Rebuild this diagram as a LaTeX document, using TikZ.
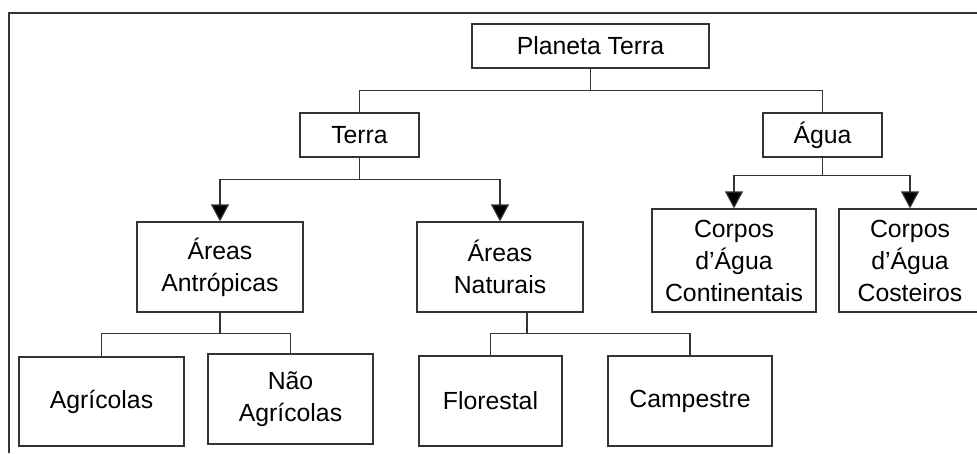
\documentclass[tikz,border=0pt]{standalone}
\usepackage{fontspec}
\setmainfont{Liberation Sans}
\usetikzlibrary{arrows.meta}
\definecolor{linegray}{HTML}{333333}
\tikzset{
  box/.style={draw=linegray, line width=0.9pt, inner sep=0pt, align=center,
    font=\fontsize{18.6}{24}\selectfont},
  link/.style={draw=linegray, line width=0.9pt},
  >={Triangle[width=13.5pt,length=12.75pt,fill=black]}
}
\begin{document}
\begin{tikzpicture}[x=0.75pt, y=-0.75pt]
  \clip (0,0) rectangle (977,453);
  \draw[link] (9,453) -- (9,13) -- (977,13);

  \node[box, minimum width=177.75pt, minimum height=33pt] (planeta) at (590.5,46) {Planeta Terra};
  \node[box, minimum width=89.25pt, minimum height=33pt] (terra) at (359.5,135) {Terra};
  \node[box, minimum width=89.25pt, minimum height=33pt] (agua) at (822.5,135) {Água};

  \node[box, minimum width=124.5pt, minimum height=67.5pt] (antropicas) at (220,267) {Áreas\\Antrópicas};
  \node[box, minimum width=124.5pt, minimum height=67.5pt] (naturais) at (500,267) {Áreas\\Naturais};
  \node[box, minimum width=123pt, minimum height=77.25pt] (continentais) at (734,260.5) {Corpos\\d’Água\\Continentais};
  \node[box, minimum width=106.5pt, minimum height=77.25pt] (costeiros) at (910,260.5) {Corpos\\d’Água\\Costeiros};

  \node[box, minimum width=123.75pt, minimum height=66.75pt] (agricolas) at (101.5,401.5) {Agrícolas};
  \node[box, minimum width=123.75pt, minimum height=67.5pt] (naoagricolas) at (290.5,399) {Não\\Agrícolas};
  \node[box, minimum width=107.25pt, minimum height=67.5pt] (florestal) at (490.5,401) {Florestal};
  \node[box, minimum width=123pt, minimum height=67.5pt] (campestre) at (690,401) {Campestre};

  \foreach \c in {terra, agua}
    \draw[link] (planeta.south) -- ++(0,22) -| (\c.north);
  \foreach \c in {antropicas, naturais}
    \draw[link, ->] (terra.south) -- ++(0,22) -| (\c.north);
  \foreach \c in {continentais, costeiros}
    \draw[link, ->] (agua.south) -- ++(0,18) -| (\c.north);
  \foreach \c in {agricolas, naoagricolas}
    \draw[link] (antropicas.south) -- ++(0,21) -| (\c.north);
  \foreach \c in {florestal, campestre}
    \draw[link] ([xshift=20.25pt]naturais.south) -- ++(0,21) -| (\c.north);
\end{tikzpicture}
\end{document}
